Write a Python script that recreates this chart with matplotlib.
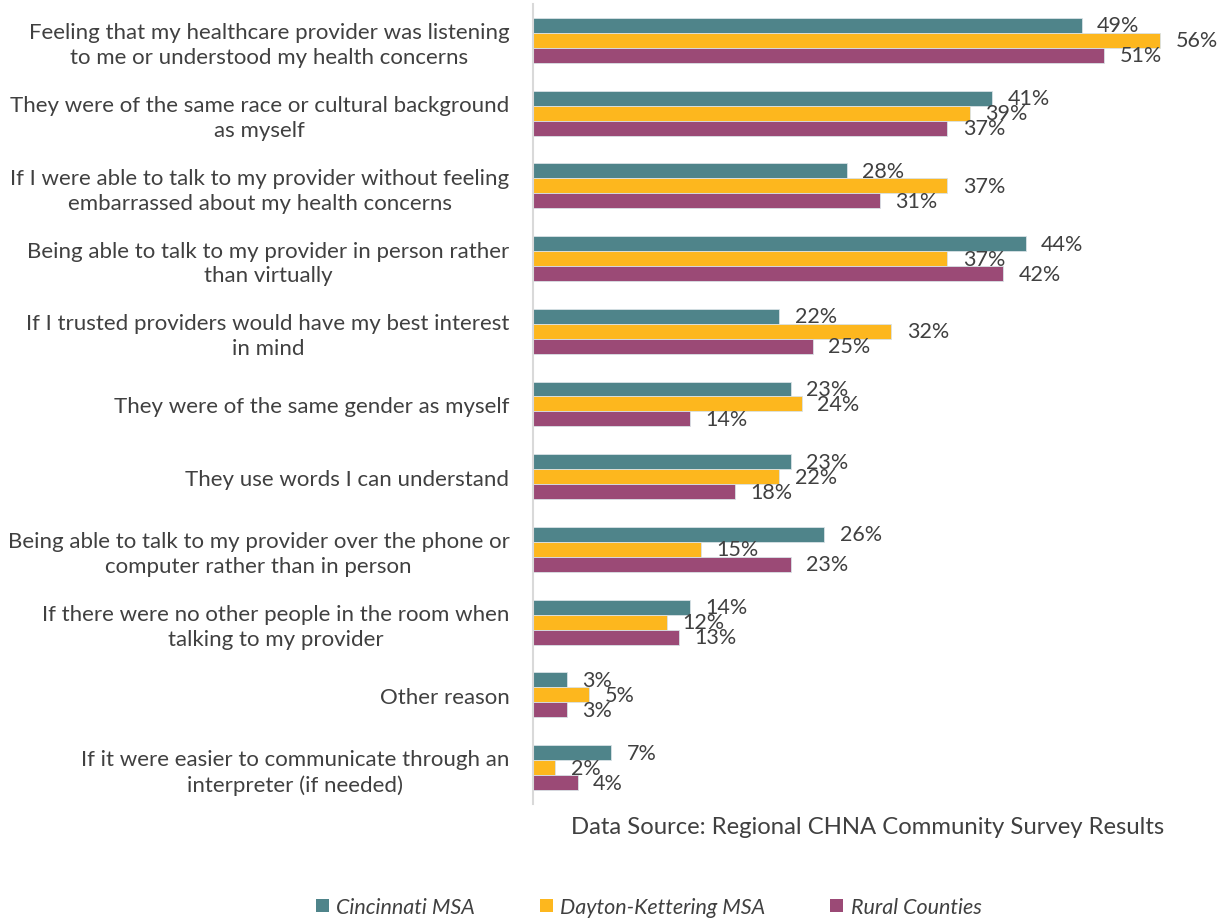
import numpy as np
import matplotlib.pyplot as plt
from matplotlib.patches import Patch

plt.rcParams["font.family"] = ["Lato", "DejaVu Sans"]

categories = [
    "Feeling that my healthcare provider was listening\nto me or understood my health concerns",
    "They were of the same race or cultural background\nas myself",
    "If I were able to talk to my provider without feeling\nembarrassed about my health concerns",
    "Being able to talk to my provider in person rather\nthan virtually",
    "If I trusted providers would have my best interest\nin mind",
    "They were of the same gender as myself",
    "They use words I can understand",
    "Being able to talk to my provider over the phone or\ncomputer rather than in person",
    "If there were no other people in the room when\ntalking to my provider",
    "Other reason",
    "If it were easier to communicate through an\ninterpreter (if needed)",
]
cincinnati = [49, 41, 28, 44, 22, 23, 23, 26, 14, 3, 7]
dayton = [56, 39, 37, 37, 32, 24, 22, 15, 12, 5, 2]
rural = [51, 37, 31, 42, 25, 14, 18, 23, 13, 3, 4]

series = [
    ("Cincinnati MSA", cincinnati, "#4F848A"),
    ("Dayton-Kettering MSA", dayton, "#FDB71E"),
    ("Rural Counties", rural, "#9B4A76"),
]
TXT = "#404040"

fig = plt.figure(figsize=(12.24, 9.2), dpi=100)
ax = fig.add_axes([0.4355, 0.125, 0.549, 0.8696])

y = np.arange(len(categories))
h = 0.206
for i, (name, vals, color) in enumerate(series):
    pos = y + (i - 1) * h
    ax.barh(pos, np.array(vals) / 100, height=h, color=color,
            edgecolor="#d9e2e6", linewidth=0.6)
    # Excel-style labels just past the bar end (they overlap in the original too)
    for p, v in zip(pos, vals):
        ax.annotate(f"{v}%", (v / 100, p), xytext=(11, 0),
                    textcoords="offset points", va="center", ha="left",
                    fontsize=15.5, color=TXT)

ax.set_xlim(0, 0.6)
ax.set_ylim(len(categories) - 0.5, -0.5)
ax.set_yticks(y)
ax.set_yticklabels(categories, fontsize=16, color=TXT, ha="right",
                   multialignment="center", linespacing=1.3)
ax.tick_params(axis="y", length=0, pad=17)
ax.set_xticks([])
for s in ["top", "right", "bottom"]:
    ax.spines[s].set_visible(False)
ax.spines["left"].set_color("#d9d9d9")
ax.spines["left"].set_linewidth(1.5)

fig.text(0.709, 0.101, "Data Source: Regional CHNA Community Survey Results",
         ha="center", va="center", fontsize=17.2, color=TXT)

handles = [Patch(facecolor=c, label=n) for n, _, c in series]
fig.legend(handles=handles, loc="center", bbox_to_anchor=(0.53, 0.013),
           ncol=3, frameon=False, handlelength=0.6, handleheight=0.6,
           handletextpad=0.35, columnspacing=3.0,
           prop={"size": 15.5, "style": "italic"}, labelcolor=TXT)

fig.savefig("out.png", dpi=100)
